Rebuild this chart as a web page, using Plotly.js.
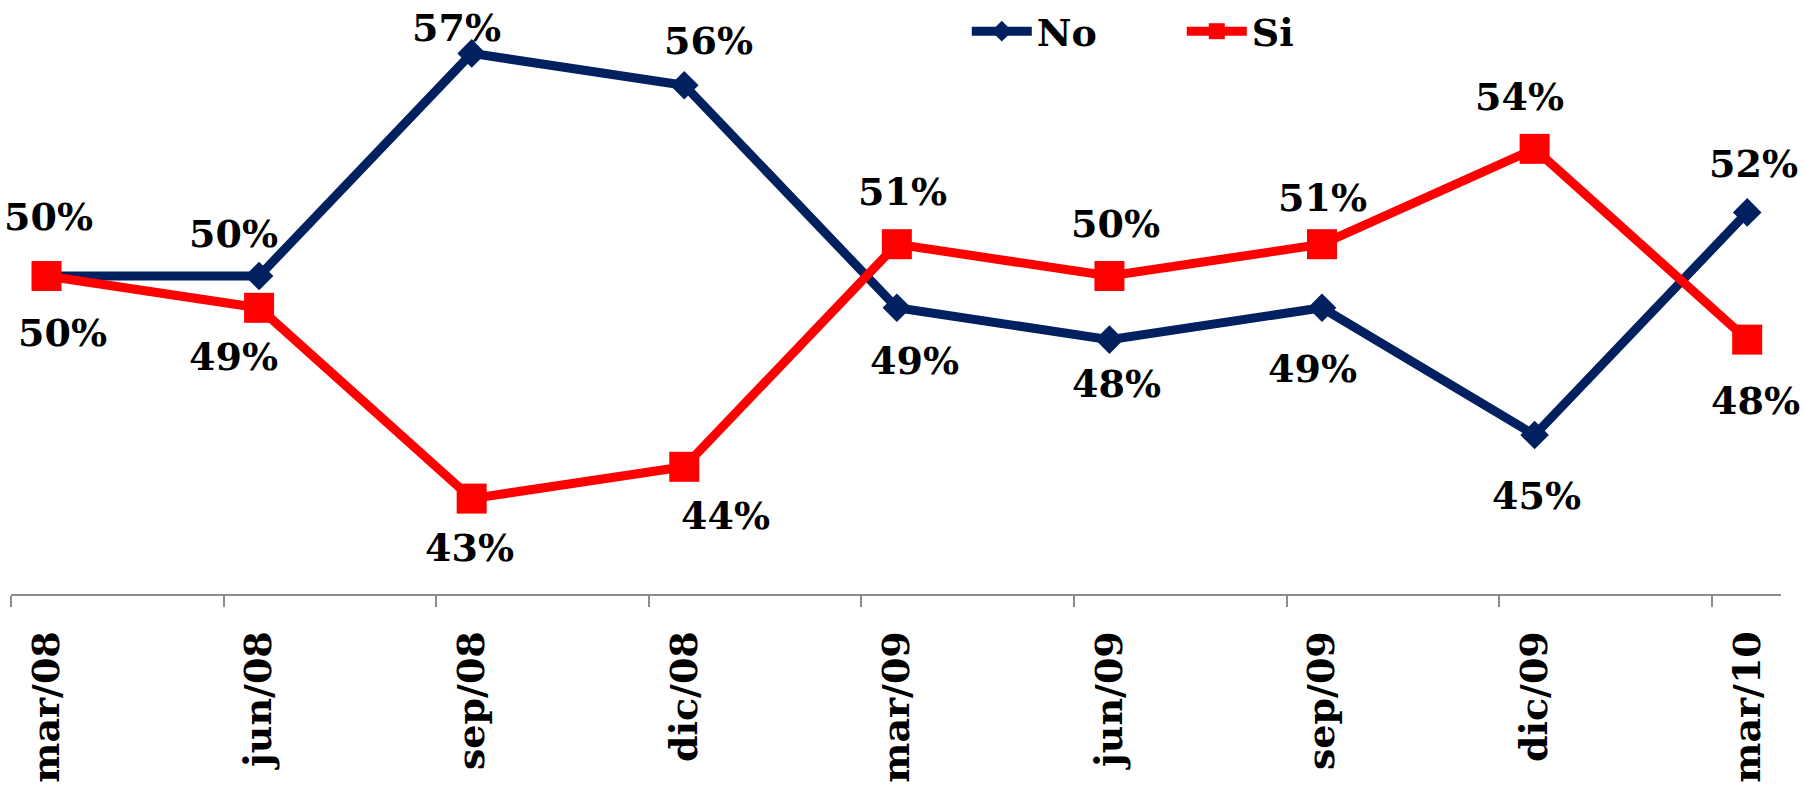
<!DOCTYPE html>
<html>
<head>
<meta charset="utf-8">
<script src="https://cdn.plot.ly/plotly-3.0.1.min.js"></script>
<style>html,body{margin:0;padding:0;background:#fff;}#chart{width:1804px;height:786px;}</style>
</head>
<body>
<div id="chart"></div>
<script>
// Data
var categories = ["mar/08","jun/08","sep/08","dic/08","mar/09","jun/09","sep/09","dic/09","mar/10"];
var noValues = [50, 50, 57, 56, 49, 48, 49, 45, 52];
var siValues = [50, 49, 43, 44, 51, 50, 51, 54, 48];
var seriesNames = ["No", "Si"];

// Label placement (pixel offsets relative to each point; +y = up)
var noLabelDx = [2, -26, -15, 24, 18, 7, -10, 2, 6];
var noLabelDy = [60, 43, 26, 45, -53, -44, -61, -60, 49];
var siLabelDx = [16, -26, -2, 41, 6, 6, 0, -15, 8];
var siLabelDy = [-56, -49, -49, -49, 53, 53, 47, 52, -61];

var FONT = "DejaVu Serif, Georgia, serif";
var NAVY = "#002060";
var RED = "#FF0000";

var idx = categories.map(function(_, i){ return i; });
var tickOffset = -0.167;

var traces = [
  {
    x: idx, y: noValues, name: seriesNames[0], type: "scatter", mode: "lines+markers",
    line: {color: NAVY, width: 9},
    marker: {symbol: "diamond", size: 22, color: NAVY},
    cliponaxis: false, hoverinfo: "skip"
  },
  {
    x: idx, y: siValues, name: seriesNames[1], type: "scatter", mode: "lines+markers",
    line: {color: RED, width: 9},
    marker: {symbol: "square", size: 30, color: RED},
    cliponaxis: false, hoverinfo: "skip"
  }
];

var annotations = [];
function addLabels(vals, dx, dy) {
  vals.forEach(function(v, i){
    annotations.push({
      x: idx[i], y: v, xref: "x", yref: "y", text: v + "%", showarrow: false,
      xshift: dx[i], yshift: dy[i],
      font: {family: FONT, size: 38, color: "#000", weight: "bold"}
    });
  });
}
addLabels(noValues, noLabelDx, noLabelDy);
addLabels(siValues, siLabelDx, siLabelDy);

var layout = {
  width: 1804, height: 786,
  margin: {l: 11, r: 23, t: 0, b: 192, pad: 0},
  paper_bgcolor: "#fff", plot_bgcolor: "#fff",
  showlegend: true,
  legend: {
    orientation: "h", x: 0.54, xanchor: "left", y: 1, yanchor: "top",
    font: {family: FONT, size: 38, color: "#000", weight: "bold"},
    entrywidth: 140, entrywidthmode: "pixels", itemwidth: 60,
    bgcolor: "rgba(0,0,0,0)", itemsizing: "trace"
  },
  xaxis: {
    range: [tickOffset, 8.159],
    tickmode: "array", tickvals: idx, ticktext: categories,
    tickangle: -90, ticks: "", ticklabelstandoff: 20,
    tickfont: {family: FONT, size: 38, color: "#000", weight: "bold"},
    showline: true, linecolor: "#8C8C8C", linewidth: 2,
    showgrid: false, zeroline: false, fixedrange: true,
    minor: {tickmode: "linear", tick0: tickOffset, dtick: 1, ticks: "outside", ticklen: 11, tickwidth: 2, tickcolor: "#8C8C8C", showgrid: false}
  },
  yaxis: {
    range: [40, 58.68], visible: false, showgrid: false, zeroline: false, fixedrange: true
  },
  annotations: annotations
};

Plotly.newPlot("chart", traces, layout, {displayModeBar: false, staticPlot: true});
</script>
</body>
</html>
